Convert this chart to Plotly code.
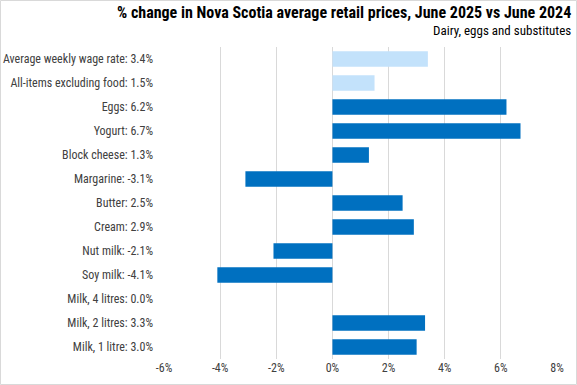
import plotly.graph_objects as go

items = ["Average weekly wage rate", "All-items excluding food", "Eggs", "Yogurt",
         "Block cheese", "Margarine", "Butter", "Cream", "Nut milk", "Soy milk",
         "Milk, 4 litres", "Milk, 2 litres", "Milk, 1 litre"]
values = [3.4, 1.5, 6.2, 6.7, 1.3, -3.1, 2.5, 2.9, -2.1, -4.1, 0.0, 3.3, 3.0]
light = [True, True] + [False] * 11

labels = [f"{n}: {v:.1f}%" for n, v in zip(items, values)]
colors = ["#C3E2FB" if l else "#0070C0" for l in light]

W, H = 577, 385
ml, mr, mt, mb = 164, 20, 47, 26
pw, ph = W - ml - mr, H - mt - mb

fig = go.Figure(go.Bar(
    x=values, y=labels, orientation="h",
    marker=dict(color=colors, line=dict(width=0)),
    width=0.65, hoverinfo="skip",
))

font = "Roboto Condensed, Roboto, sans-serif"
fig.update_layout(
    width=W, height=H,
    margin=dict(l=ml, r=mr, t=mt, b=mb, autoexpand=False),
    paper_bgcolor="white", plot_bgcolor="white",
    font=dict(family=font, size=12, color="#404040"),
    showlegend=False,
    annotations=[
        dict(text="<b>% change in Nova Scotia average retail prices, June 2025 vs June 2024</b>",
             xref="paper", yref="paper", x=(W - 4 - ml) / pw, y=1 + (mt - 13) / ph,
             xanchor="right", yanchor="middle", showarrow=False,
             font=dict(family=font, size=16, color="#000000")),
        dict(text="Dairy, eggs and substitutes",
             xref="paper", yref="paper", x=(W - 4 - ml) / pw, y=1 + (mt - 31) / ph,
             xanchor="right", yanchor="middle", showarrow=False,
             font=dict(family=font, size=13, color="#000000")),
    ],
    shapes=[dict(type="rect", xref="paper", yref="paper",
                 x0=(-ml + 0.5) / pw, x1=(W - ml - 0.5) / pw,
                 y0=(-mb + 0.5) / ph, y1=(H - mb - 0.5) / ph,
                 line=dict(color="#D9D9D9", width=1), layer="below")],
)
fig.update_xaxes(
    range=[-6, 8], tickvals=[-6, -4, -2, 0, 2, 4, 6, 8],
    ticktext=["-6%", "-4%", "-2%", "0%", "2%", "4%", "6%", "8%"],
    showgrid=True, gridcolor="#D9D9D9", gridwidth=1,
    zeroline=True, zerolinecolor="#D9D9D9", zerolinewidth=1,
    showline=False, ticks="", tickfont=dict(size=12, color="#404040"),
    automargin=False, fixedrange=True,
)
fig.update_yaxes(
    autorange="reversed", showgrid=False, showline=False, ticks="",
    ticklabelstandoff=10, tickfont=dict(size=12, color="#404040"),
    automargin=False, fixedrange=True,
)
fig.write_html("out.html", config={"displayModeBar": False},
               post_script="document.body.style.margin='0';document.body.style.overflow='hidden';")
